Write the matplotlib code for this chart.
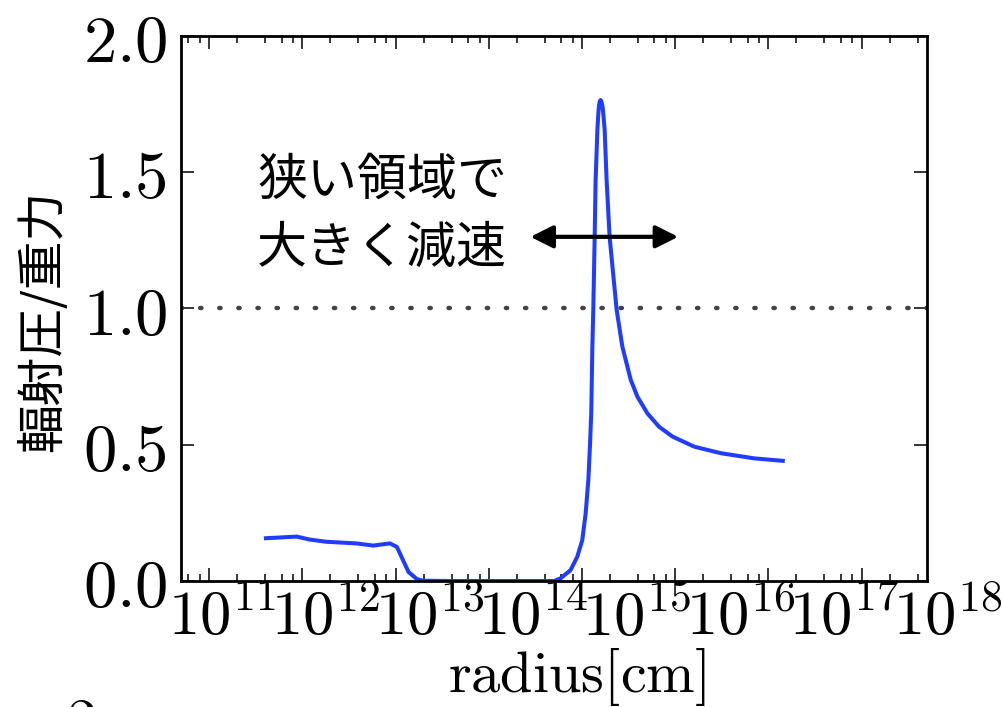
import numpy as np
import matplotlib
matplotlib.use("Agg")
import matplotlib.pyplot as plt
from matplotlib.ticker import LogLocator, FixedLocator, NullLocator, FuncFormatter
from matplotlib.transforms import ScaledTranslation

plt.rcParams['mathtext.fontset'] = 'cm'
plt.rcParams['font.family'] = ['Noto Sans CJK JP', 'DejaVu Sans']

# データ (log10 radius, 輻射圧/重力)
log_r = [11.61, 11.94, 12.08, 12.26, 12.58, 12.76, 12.94, 13.015, 13.08, 13.14,
         13.23, 13.30, 13.60, 14.00, 14.40, 14.70, 14.772, 14.878, 14.95, 15.004,
         15.04, 15.069, 15.086, 15.10, 15.112, 15.122, 15.137, 15.147, 15.166,
         15.176, 15.183, 15.192, 15.20, 15.209, 15.222, 15.232, 15.244, 15.265,
         15.297, 15.373, 15.434, 15.524, 15.596, 15.703, 15.828, 15.972, 16.205,
         16.49, 16.85, 17.155]
ratio = [0.157, 0.163, 0.152, 0.144, 0.138, 0.130, 0.138, 0.125, 0.077, 0.033,
         0.007, 0.001, 0.0, 0.0, 0.0, 0.0, 0.010, 0.040, 0.089, 0.150,
         0.248, 0.371, 0.493, 0.615, 0.860, 0.994, 1.263, 1.471, 1.655,
         1.715, 1.745, 1.760, 1.765, 1.760, 1.740, 1.705, 1.655, 1.471,
         1.263, 0.994, 0.860, 0.738, 0.676, 0.615, 0.566, 0.530, 0.493,
         0.469, 0.450, 0.441]
radius = 10.0 ** np.array(log_r)

xticks = [1e11, 1e12, 1e13, 1e14, 1e15, 1e16, 1e17, 1e18]
yticks = [0.0, 0.5, 1.0, 1.5, 2.0]
arrow_x = [2.8e14, 1.08e16]
arrow_y = 1.263

fig = plt.figure(figsize=(10.03, 7.07), dpi=100)
ax = fig.add_axes([0.1805, 0.1782, 0.7434, 0.7709])

ax.plot(radius, ratio, color='#1f3cff', lw=2.9, solid_joinstyle='round')
ax.axhline(1.0, color='#444444', lw=3.2, ls=(0, (0.3, 4.0)), dash_capstyle='round')

ax.set_xscale('log')
ax.set_xlim(5e10, 5e18)
ax.set_ylim(0, 2.0)

ax.xaxis.set_major_locator(FixedLocator(xticks))
ax.xaxis.set_minor_locator(LogLocator(base=10, subs=[2, 4, 6, 8], numticks=30))
ax.xaxis.set_major_formatter(FuncFormatter(lambda v, p: r'$10^{%d}$' % round(np.log10(v))))
ax.xaxis.set_minor_formatter(FuncFormatter(lambda v, p: ''))
ax.yaxis.set_major_locator(FixedLocator(yticks))
ax.yaxis.set_minor_locator(NullLocator())
ax.yaxis.set_major_formatter(FuncFormatter(lambda v, p: r'$%.1f$' % v))

ax.tick_params(which='both', direction='in', top=True, right=True, width=1.1)
ax.tick_params(which='major', length=9.5)
ax.tick_params(axis='x', which='major', pad=3, labelsize=45)
ax.tick_params(axis='y', which='major', pad=10, labelsize=48)
ax.tick_params(which='minor', length=5)
for s in ax.spines.values():
    s.set_linewidth(2.0)

# 目盛りラベルの位置を元の図に合わせてずらす
for i, lab in enumerate(ax.get_xticklabels()):
    dx = (12.7 + 10.5 * i) / 100.0
    lab.set_transform(lab.get_transform() + ScaledTranslation(dx, 0, fig.dpi_scale_trans))

ax.set_xlabel(r'$\mathrm{radius[cm]}$', fontsize=42, va='top')
ax.xaxis.set_label_coords(0.531, -0.12)
ax.set_ylabel('輻射圧/重力', fontsize=35)
ax.yaxis.set_label_coords(-0.152, 0.477)

ax.text(0.102, 0.672, '狭い領域で\n大きく減速', transform=ax.transAxes,
        fontsize=36, va='center', ha='left', linespacing=1.42)
ax.annotate('', xy=(arrow_x[1], arrow_y), xytext=(arrow_x[0], arrow_y),
            arrowprops=dict(arrowstyle='<|-|>,head_length=0.4,head_width=0.2',
                            lw=3, color='k', mutation_scale=34,
                            shrinkA=0, shrinkB=0))

fig.text(0.08, 1 - 693 / 707, r'$2$', fontsize=44, ha='center', va='top')

fig.savefig('out.png', dpi=100)
